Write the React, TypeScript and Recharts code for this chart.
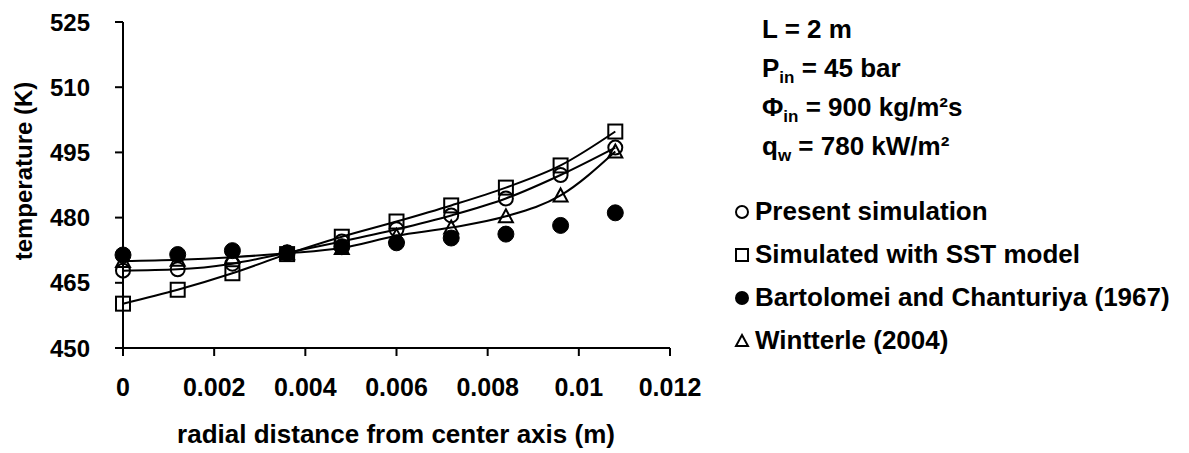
import React from "react";
import { LineChart, Line, XAxis, YAxis } from "recharts";

// radial positions (m)
const radius = [0, 0.0012, 0.0024, 0.0036, 0.0048, 0.006, 0.0072, 0.0084, 0.0096, 0.0108];

// temperatures (K)
const present = [467.8, 468.1, 469.4, 471.9, 474.5, 477.3, 480.5, 484.4, 489.8, 496.1];
const sst = [460.2, 463.4, 467.2, 471.6, 475.6, 479.1, 482.8, 486.9, 492.0, 499.8];
const bartolomei = [471.4, 471.5, 472.4, 471.9, 473.3, 474.2, 475.3, 476.2, 478.2, 481.1];
const wintterle = [470.0, 470.3, 470.9, 471.8, 473.0, 475.8, 477.7, 480.3, 485.1, 495.2];

const xTicks = [0, 0.002, 0.004, 0.006, 0.008, 0.01, 0.012];
const yTicks = [450, 465, 480, 495, 510, 525];

const seriesNames = [
  ["present", "Present simulation"],
  ["sst", "Simulated with SST model"],
  ["bart", "Bartolomei and Chanturiya (1967)"],
  ["wint", "Wintterle (2004)"],
];

const data = radius.map((r, i) => ({
  r,
  present: present[i],
  sst: sst[i],
  bart: bartolomei[i],
  wint: wintterle[i],
}));

const FONT = '"Liberation Sans", Arial, sans-serif';

const circleDot = (p: any) => (
  <circle key={`c-${p.index}`} cx={p.cx} cy={p.cy} r={7} fill="none" stroke="#000" strokeWidth={2} />
);
const squareDot = (p: any) => (
  <rect key={`s-${p.index}`} x={p.cx - 7} y={p.cy - 7} width={14} height={14} fill="none" stroke="#000" strokeWidth={2} />
);
const filledDot = (p: any) => (
  <circle key={`f-${p.index}`} cx={p.cx} cy={p.cy} r={8} fill="#000" stroke="#000" />
);
const triDot = (p: any) => (
  <path
    key={`t-${p.index}`}
    d={`M${p.cx},${p.cy - 7} L${p.cx + 7},${p.cy + 6} L${p.cx - 7},${p.cy + 6} Z`}
    fill="none"
    stroke="#000"
    strokeWidth={2}
  />
);

function marker(key: string) {
  if (key === "present") return <circle cx={8} cy={8} r={6} fill="none" stroke="#000" strokeWidth={2} />;
  if (key === "sst") return <rect x={2} y={2} width={12} height={12} fill="none" stroke="#000" strokeWidth={2} />;
  if (key === "bart") return <circle cx={8} cy={8} r={7} fill="#000" />;
  return <path d="M8,2 L14,13 L2,13 Z" fill="none" stroke="#000" strokeWidth={2} />;
}

const sub = { fontSize: 17, position: "relative" as const, top: 6, lineHeight: 0 };

const textStyle = {
  position: "absolute" as const,
  fontFamily: FONT,
  fontWeight: "bold" as const,
  fontSize: 26,
  color: "#000",
  whiteSpace: "nowrap" as const,
};

export default function App() {
  return (
    <div style={{ position: "absolute", left: 0, top: 0, width: 1189, height: 453, background: "#fff" }}>
      <LineChart width={1189} height={453} data={data} margin={{ top: 22, right: 519, left: 0, bottom: 0 }}>
        <XAxis
          dataKey="r"
          type="number"
          domain={[0, 0.012]}
          ticks={xTicks}
          tickFormatter={(v: number) => String(v)}
          height={105}
          tickSize={8}
          tickMargin={22}
          stroke="#000"
          strokeWidth={2}
          tick={{ fill: "#000", fontSize: 25, fontWeight: "bold", fontFamily: FONT }}
          label={{
            content: () => (
              <text x={396} y={443} textAnchor="middle" fontSize={26} fontWeight="bold" fontFamily={FONT} fill="#000">
                radial distance from center axis (m)
              </text>
            ),
          }}
        />
        <YAxis
          type="number"
          domain={[450, 525]}
          ticks={yTicks}
          width={123}
          tickSize={8}
          tickMargin={25}
          stroke="#000"
          strokeWidth={2}
          tick={{ fill: "#000", fontSize: 24, fontWeight: "bold", fontFamily: FONT }}
          label={{
            content: () => (
              <text
                x={23}
                y={171}
                transform="rotate(-90 23 171)"
                textAnchor="middle"
                dominantBaseline="central"
                fontSize={24}
                fontWeight="bold"
                fontFamily={FONT}
                fill="#000"
              >
                temperature (K)
              </text>
            ),
          }}
        />
        <Line
          name="Present simulation"
          dataKey="present"
          type="monotone"
          stroke="#000"
          strokeWidth={2}
          dot={circleDot}
          isAnimationActive={false}
        />
        <Line
          name="Simulated with SST model"
          dataKey="sst"
          type="monotone"
          stroke="#000"
          strokeWidth={2}
          dot={squareDot}
          isAnimationActive={false}
        />
        <Line
          name="Bartolomei and Chanturiya (1967)"
          dataKey="bart"
          stroke="none"
          dot={filledDot}
          isAnimationActive={false}
        />
        <Line
          name="Wintterle (2004)"
          dataKey="wint"
          type="monotone"
          stroke="#000"
          strokeWidth={2}
          dot={triDot}
          isAnimationActive={false}
        />
      </LineChart>
      <div style={{ ...textStyle, left: 734, top: 190, lineHeight: "43px" }}>
        {seriesNames.map(([key, label]) => (
          <div key={key} style={{ display: "flex", alignItems: "center" }}>
            <svg width={16} height={16} style={{ marginRight: 5 }}>
              {marker(key)}
            </svg>
            {label}
          </div>
        ))}
      </div>
      <div style={{ ...textStyle, left: 762, top: 10, lineHeight: "39px" }}>
        <div>L = 2 m</div>
        <div>
          P<span style={sub}>in</span> = 45 bar
        </div>
        <div>
          Φ<span style={sub}>in</span> = 900 kg/m²s
        </div>
        <div>
          q<span style={sub}>w</span> = 780 kW/m²
        </div>
      </div>
    </div>
  );
}
